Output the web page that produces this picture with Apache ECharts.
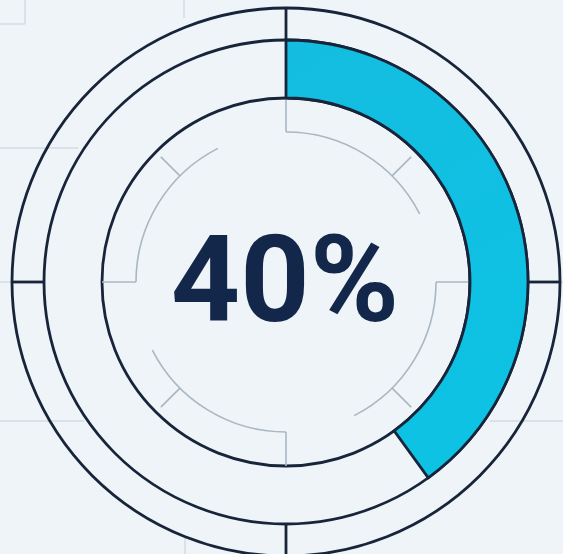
<!DOCTYPE html>
<html>
<head>
<meta charset="utf-8" />
<title>40%</title>
<script src="https://cdn.jsdelivr.net/npm/echarts@6/dist/echarts.min.js"></script>
<style>
  html, body { margin: 0; padding: 0; background: #eef4f7; }
  #main { width: 563px; height: 554px; }
</style>
</head>
<body>
<div id="main"></div>
<script type="text/javascript">
// data
const categories = ['Progress'];
const values = [40];
const axisRange = [0, 100];

// layout
const CX = 286, CY = 282;
const R_OUT = 274, R_MID = 242, R_IN = 184, R_DECO = 150;
const DARK = '#17243a';
const FAINT = '#d2dde5';
const DECO = '#a9b7c3';

var myChart = echarts.init(document.getElementById('main'));

// point on a circle, angle measured clockwise from 12 o'clock
function pt(r, deg) {
    const a = (deg - 90) * Math.PI / 180;
    return [CX + r * Math.cos(a), CY + r * Math.sin(a)];
}
function radial(r1, r2, deg, color, w, z) {
    const a = pt(r1, deg), b = pt(r2, deg);
    return {
        type: 'line', z: z, silent: true,
        shape: { x1: a[0], y1: a[1], x2: b[0], y2: b[1] },
        style: { stroke: color, lineWidth: w }
    };
}

let graphics = [];

// faint background grid
[[0, 148, 78, 148], [0, 421, 84, 421], [490, 421, 563, 421],
 [0, 282, 14, 282], [560, 282, 563, 282], [0, 24, 25, 24], [25, 0, 25, 24],
 [184, 0, 184, 18], [185, 538, 185, 554]].forEach(l => {
    graphics.push({
        type: 'line', z: 0, silent: true,
        shape: { x1: l[0], y1: l[1], x2: l[2], y2: l[3] },
        style: { stroke: FAINT, lineWidth: 1.5 }
    });
});

// rings
[R_OUT, R_MID, R_IN].forEach(r => {
    graphics.push({
        type: 'circle', z: 1, silent: true,
        shape: { cx: CX, cy: CY, r: r },
        style: { fill: null, stroke: DARK, lineWidth: 2.8 }
    });
});

// quarter ticks between outer and middle ring
[0, 90, 180, 270].forEach(d => graphics.push(radial(R_MID, R_OUT, d, DARK, 2.8, 1)));

// inner decorative arcs
[0, 90, 180, 270].forEach(d => {
    graphics.push({
        type: 'arc', z: 1, silent: true,
        shape: { cx: CX, cy: CY, r: R_DECO,
                 startAngle: (d - 90) * Math.PI / 180,
                 endAngle: (d - 90 + 63) * Math.PI / 180, clockwise: true },
        style: { fill: null, stroke: DECO, lineWidth: 1.6 }
    });
    graphics.push(radial(R_DECO, R_IN, d, DECO, 1.6, 1));
    graphics.push(radial(R_DECO, R_DECO + 27, d + 45, DECO, 1.6, 1));
});

// centre label
graphics.push({
    type: 'text', z: 10, silent: true,
    x: CX - 1, y: CY + 9,
    style: {
        text: values[0] + '%',
        font: 'bold 121px Roboto, "Liberation Sans", sans-serif',
        fill: '#13274a',
        align: 'center',
        verticalAlign: 'middle'
    }
});

option = {
    backgroundColor: '#eef4f7',
    animation: false,
    polar: {
        center: [CX, CY],
        radius: [R_IN, R_MID]
    },
    angleAxis: {
        show: false,
        min: axisRange[0],
        max: axisRange[1],
        startAngle: 90,
        clockwise: true
    },
    radiusAxis: {
        show: false,
        type: 'category',
        data: categories
    },
    series: [{
        type: 'bar',
        coordinateSystem: 'polar',
        barCategoryGap: '0%',
        z: 5,
        data: values,
        itemStyle: {
            color: new echarts.graphic.LinearGradient(0, 0, 1, 1, [
                { offset: 0, color: '#14bde0' },
                { offset: 1, color: '#0cc3e4' }
            ]),
            borderColor: DARK,
            borderWidth: 2.8
        }
    }],
    graphic: graphics
};

myChart.setOption(option);
</script>
</body>
</html>
